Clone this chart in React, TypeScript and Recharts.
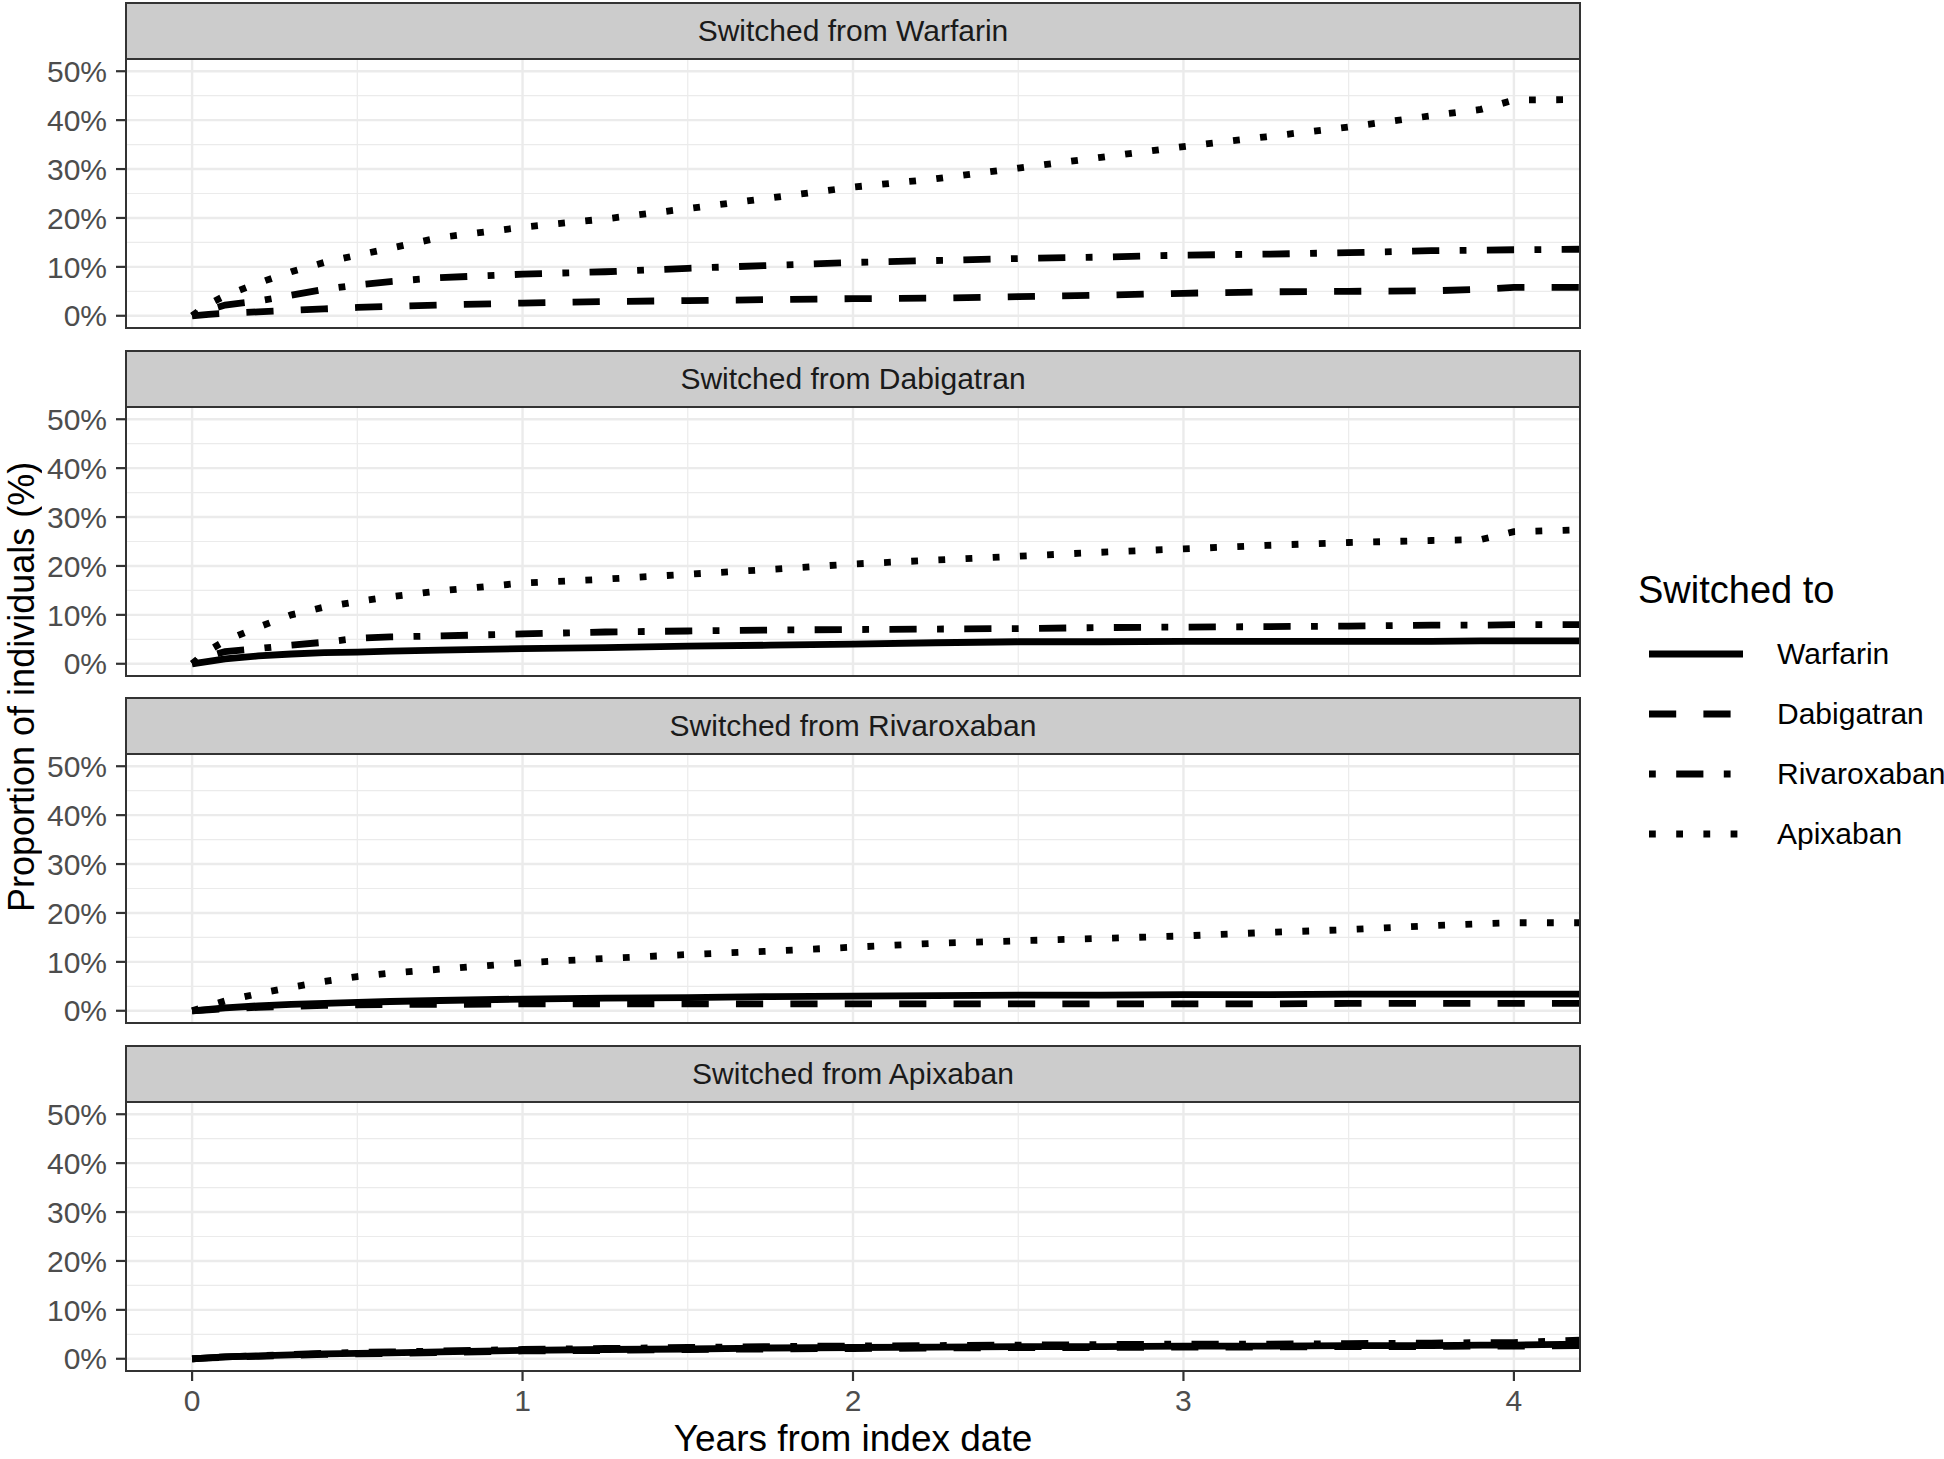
import React from 'react'
import { LineChart, Line, XAxis, YAxis, CartesianGrid } from 'recharts'

// years from index date (shared x grid for every curve)
const years = [0, 0.05, 0.1, 0.2, 0.3, 0.4, 0.5, 0.6, 0.75, 1, 1.25, 1.5, 1.75, 2, 2.25, 2.5, 2.75, 3, 3.25, 3.5, 3.75, 3.9, 4, 4.2]

const drugs = ['Warfarin', 'Dabigatran', 'Rivaroxaban', 'Apixaban']

// Switched from Warfarin
const warfarinToDabigatran = [0, 0.3, 0.5, 0.8, 1.1, 1.4, 1.7, 1.9, 2.2, 2.6, 2.9, 3.1, 3.3, 3.5, 3.6, 3.9, 4.2, 4.6, 4.9, 5.0, 5.1, 5.4, 5.8, 5.8]
const warfarinToRivaroxaban = [0, 1.2, 2.2, 3.0, 4.2, 5.4, 6.3, 7.0, 7.8, 8.5, 9.0, 9.7, 10.3, 10.9, 11.3, 11.7, 12.0, 12.4, 12.6, 12.9, 13.3, 13.4, 13.5, 13.6]
const warfarinToApixaban = [0, 2.4, 4.1, 6.7, 9.0, 10.9, 12.4, 13.8, 16.0, 18.1, 19.8, 21.9, 24.1, 26.3, 28.0, 30.2, 32.4, 34.6, 36.6, 38.6, 40.9, 42.2, 44.1, 44.2]

// Switched from Dabigatran
const dabigatranToWarfarin = [0, 0.5, 1.0, 1.6, 2.0, 2.3, 2.4, 2.6, 2.8, 3.1, 3.3, 3.6, 3.8, 4.0, 4.3, 4.5, 4.5, 4.6, 4.6, 4.6, 4.6, 4.7, 4.7, 4.7]
const dabigatranToRivaroxaban = [0, 1.5, 2.5, 3.1, 3.8, 4.4, 5.2, 5.5, 5.7, 6.1, 6.5, 6.7, 6.9, 7.0, 7.1, 7.2, 7.4, 7.5, 7.6, 7.7, 7.9, 7.9, 8.0, 8.0]
const dabigatranToApixaban = [0, 2.7, 4.7, 7.5, 10.0, 11.6, 12.7, 13.7, 14.9, 16.5, 17.3, 18.3, 19.3, 20.4, 21.2, 22.0, 22.8, 23.5, 24.2, 24.8, 25.2, 25.4, 27.0, 27.4]

// Switched from Rivaroxaban
const rivaroxabanToWarfarin = [0, 0.3, 0.6, 1.0, 1.3, 1.5, 1.7, 1.9, 2.1, 2.4, 2.6, 2.7, 2.9, 3.0, 3.1, 3.2, 3.2, 3.3, 3.3, 3.4, 3.4, 3.4, 3.4, 3.4]
const rivaroxabanToDabigatran = [0, 0.2, 0.4, 0.7, 0.9, 1.1, 1.2, 1.3, 1.3, 1.4, 1.4, 1.4, 1.4, 1.4, 1.4, 1.4, 1.4, 1.4, 1.4, 1.5, 1.5, 1.5, 1.5, 1.5]
const rivaroxabanToApixaban = [0, 1.0, 2.0, 3.5, 4.8, 6.0, 7.0, 7.7, 8.5, 9.8, 10.7, 11.5, 12.2, 13.0, 13.8, 14.3, 14.8, 15.3, 16.0, 16.6, 17.4, 17.8, 18.0, 18.0]

// Switched from Apixaban
const apixabanToWarfarin = [0, 0.2, 0.4, 0.6, 0.8, 1.0, 1.1, 1.2, 1.4, 1.7, 1.9, 2.0, 2.2, 2.3, 2.4, 2.5, 2.5, 2.6, 2.6, 2.7, 2.7, 2.8, 2.8, 3.0]
const apixabanToDabigatran = [0, 0.2, 0.3, 0.5, 0.7, 0.9, 1.0, 1.1, 1.3, 1.6, 1.7, 1.9, 2.0, 2.1, 2.2, 2.3, 2.3, 2.4, 2.4, 2.5, 2.5, 2.6, 2.6, 2.7]
const apixabanToRivaroxaban = [0, 0.2, 0.4, 0.6, 0.9, 1.1, 1.3, 1.4, 1.6, 1.9, 2.1, 2.3, 2.5, 2.6, 2.7, 2.8, 2.9, 3.0, 3.0, 3.1, 3.2, 3.3, 3.3, 3.8]

const xTicks = [0, 1, 2, 3, 4]
const xMinor = [0.5, 1.5, 2.5, 3.5]
const yTicks = [0, 10, 20, 30, 40, 50]
const yMinor = [5, 15, 25, 35, 45]

const panels: { title: string; series: Record<string, number[]> }[] = [
  { title: 'Switched from Warfarin', series: { Dabigatran: warfarinToDabigatran, Rivaroxaban: warfarinToRivaroxaban, Apixaban: warfarinToApixaban } },
  { title: 'Switched from Dabigatran', series: { Warfarin: dabigatranToWarfarin, Rivaroxaban: dabigatranToRivaroxaban, Apixaban: dabigatranToApixaban } },
  { title: 'Switched from Rivaroxaban', series: { Warfarin: rivaroxabanToWarfarin, Dabigatran: rivaroxabanToDabigatran, Apixaban: rivaroxabanToApixaban } },
  { title: 'Switched from Apixaban', series: { Warfarin: apixabanToWarfarin, Dabigatran: apixabanToDabigatran, Rivaroxaban: apixabanToRivaroxaban } },
]

// ggplot linetypes scaled by line width
const LW = 6.8
const dashFor: Record<string, string | undefined> = {
  Warfarin: undefined,
  Dabigatran: `${4 * LW} ${4 * LW}`,
  Rivaroxaban: `${LW} ${3 * LW} ${4 * LW} ${3 * LW}`,
  Apixaban: `${LW} ${3 * LW}`,
}

const FONT = '"Liberation Sans", Arial, Helvetica, sans-serif'
const PLOT_LEFT = 126
const PLOT_W = 1454
const STEP = 347.5
const STRIP_H = 57.3
const PLOT_H = 269
const AXIS_H = 60
const PAD = 20

const Panel: React.FC<{ idx: number; title: string; series: Record<string, number[]>; last: boolean }> = ({ idx, title, series, last }) => {
  const stripTop = 2 + idx * STEP
  const plotTop = stripTop + STRIP_H
  const rows = years.map((yr, i) => {
    const row: Record<string, number> = { year: yr }
    Object.keys(series).forEach(k => { row[k] = series[k][i] })
    return row
  })
  const height = PLOT_H + 2 * PAD + (last ? AXIS_H : 0)

  return (
    <>
      <div style={{
        position: 'absolute', left: PLOT_LEFT - 1, top: stripTop, width: PLOT_W + 2, height: STRIP_H + 1,
        background: '#CCCCCC', border: '2px solid #333333', boxSizing: 'border-box',
        display: 'flex', alignItems: 'center', justifyContent: 'center',
        fontSize: 30, color: '#1A1A1A', fontFamily: FONT,
      }}>{title}</div>
      <div style={{ position: 'absolute', left: 0, top: plotTop - PAD }}>
        <LineChart width={PLOT_LEFT + PLOT_W + 4} height={height} data={rows}
          margin={{ top: PAD, right: 4, bottom: PAD, left: 0 }}>
          <CartesianGrid stroke="#EBEBEB" strokeWidth={1.2} horizontalValues={yMinor} verticalValues={xMinor} />
          <CartesianGrid stroke="#EBEBEB" strokeWidth={2.4} horizontalValues={yTicks} verticalValues={xTicks} />
          <XAxis dataKey="year" type="number" domain={[-0.2, 4.2]} ticks={xTicks} allowDataOverflow interval={0}
            hide={!last} height={AXIS_H} axisLine={false} tickSize={10} tickMargin={9}
            tickLine={{ stroke: '#333333', strokeWidth: 2.2 }}
            tick={{ fontSize: 30, fill: '#4D4D4D', fontFamily: FONT }} />
          <YAxis type="number" domain={[-2.5, 52.5]} ticks={yTicks} allowDataOverflow width={PLOT_LEFT} interval={0}
            axisLine={false} tickSize={10} tickMargin={9}
            tickLine={{ stroke: '#333333', strokeWidth: 2.2 }}
            tickFormatter={(v: number) => `${v}%`}
            tick={{ fontSize: 30, fill: '#4D4D4D', fontFamily: FONT }} />
          {drugs.filter(d => series[d]).map(d => (
            <Line key={d} type="linear" dataKey={d} stroke="#000000" strokeWidth={LW}
              strokeDasharray={dashFor[d]} dot={false} activeDot={false} isAnimationActive={false} />
          ))}
        </LineChart>
      </div>
      <div style={{
        position: 'absolute', left: PLOT_LEFT - 1, top: plotTop - 1, width: PLOT_W + 2, height: PLOT_H + 2,
        border: '2px solid #333333', boxSizing: 'border-box', pointerEvents: 'none',
      }} />
    </>
  )
}

const Legend: React.FC = () => (
  <div style={{ position: 'absolute', left: 1638, top: 563, fontFamily: FONT, color: '#000' }}>
    <div style={{ fontSize: 38, height: 54, lineHeight: '54px', whiteSpace: 'nowrap' }}>Switched to</div>
    {drugs.map((d, i) => (
      <div key={d} style={{ position: 'absolute', left: 0, top: 61 + i * 60, height: 60, width: 306, display: 'flex', alignItems: 'center' }}>
        <svg width={96} height={20} style={{ marginLeft: 11, flexShrink: 0 }}>
          <line x1={0} y1={10} x2={94} y2={10} stroke="#000" strokeWidth={LW} strokeDasharray={dashFor[d]} />
        </svg>
        <span style={{ fontSize: 30, marginLeft: 32, whiteSpace: 'nowrap' }}>{d}</span>
      </div>
    ))}
  </div>
)

export default function App() {
  return (
    <div style={{ position: 'absolute', left: 0, top: 0, width: 1944, height: 1459, background: '#fff', fontFamily: FONT, overflow: 'hidden' }}>
      {panels.map((p, i) => (
        <Panel key={p.title} idx={i} title={p.title} series={p.series} last={i === panels.length - 1} />
      ))}
      <div style={{
        position: 'absolute', left: PLOT_LEFT, width: PLOT_W, top: 1422, height: 34, lineHeight: '34px',
        textAlign: 'center', fontSize: 37, color: '#000', whiteSpace: 'nowrap',
      }}>Years from index date</div>
      <div style={{
        position: 'absolute', left: 0, top: 687 - 270, width: 44, height: 540,
        writingMode: 'vertical-rl', transform: 'rotate(180deg)',
        display: 'flex', alignItems: 'center', justifyContent: 'center',
        fontSize: 36, lineHeight: '44px', color: '#000', whiteSpace: 'nowrap',
      }}>Proportion of individuals (%)</div>
      <Legend />
    </div>
  )
}
